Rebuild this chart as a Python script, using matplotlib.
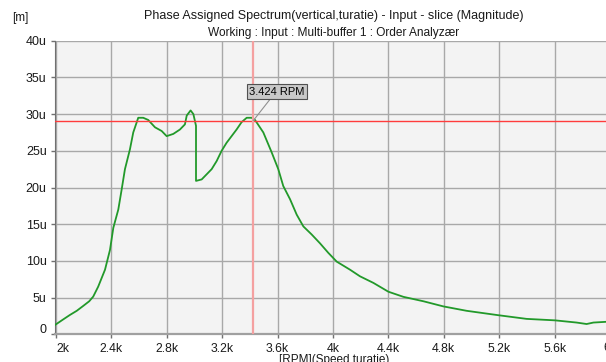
import matplotlib
matplotlib.use("Agg")
import matplotlib.pyplot as plt
from matplotlib.ticker import FixedLocator
import matplotlib.transforms as mtransforms

plt.rcParams['font.family'] = ['Liberation Sans', 'DejaVu Sans']

# --- data (RPM, magnitude in micro-metres) ---
rpm = [1993, 2050, 2101, 2150, 2197, 2240, 2269, 2305, 2354, 2390, 2414, 2450,
       2474, 2498, 2534, 2558, 2594, 2630, 2666, 2715, 2763, 2799, 2847, 2895,
       2931, 2944, 2972, 2992, 3011, 3011, 3052, 3088, 3124, 3160, 3196, 3232,
       3268, 3304, 3340, 3377, 3413, 3437, 3497, 3557, 3605, 3641, 3690, 3738,
       3786, 3846, 3906, 3966, 4027, 4123, 4195, 4292, 4400, 4509, 4653, 4797,
       4965, 5194, 5398, 5603, 5759, 5831, 5880, 5971]
magnitude_u = [1.27, 2.0, 2.64, 3.2, 3.87, 4.5, 5.14, 6.5, 8.8, 11.5, 14.5, 17.0,
               19.7, 22.5, 25.2, 27.5, 29.5, 29.5, 29.2, 28.2, 27.7, 27.0, 27.3, 27.9,
               28.6, 29.8, 30.5, 30.0, 28.4, 20.9, 21.1, 21.8, 22.5, 23.6, 25.0, 26.1,
               27.0, 27.9, 28.9, 29.5, 29.5, 29.2, 27.5, 24.8, 22.5, 20.2, 18.4, 16.3,
               14.7, 13.6, 12.4, 11.1, 9.9, 8.8, 7.9, 7.0, 5.8, 5.1, 4.5, 3.8,
               3.2, 2.6, 2.1, 1.9, 1.6, 1.4, 1.6, 1.7]

x_ticks = [2000, 2400, 2800, 3200, 3600, 4000, 4400, 4800, 5200, 5600, 6000]
x_tick_labels = ["2k", "2.4k", "2.8k", "3.2k", "3.6k", "4k", "4.4k", "4.8k", "5.2k", "5.6k", "6k"]
y_ticks = [0, 5, 10, 15, 20, 25, 30, 35, 40]
y_tick_labels = ["0", "5u", "10u", "15u", "20u", "25u", "30u", "35u", "40u"]

cursor_rpm = 3424
cursor_level = 29.1
cursor_label = "3.424 RPM"

W, H = 606, 362
fig = plt.figure(figsize=(W / 100, H / 100), dpi=100)
ax = fig.add_axes([55 / W, (H - 334.3) / H, (W - 55) / W, 293.6 / H])
ax.set_facecolor('#f3f3f3')

ax.set_xlim(1993, 5971)
ax.set_ylim(0, 40)

ax.xaxis.set_major_locator(FixedLocator(x_ticks))
ax.set_xticklabels(x_tick_labels)
ax.yaxis.set_major_locator(FixedLocator(y_ticks))
ax.set_yticklabels(y_tick_labels)

ax.grid(True, color='#a8a8a8', linewidth=1.0)
ax.set_axisbelow(True)

for s in ['top', 'right']:
    ax.spines[s].set_visible(False)
ax.spines['left'].set_color('#707070')
ax.spines['bottom'].set_color('#a0a0a0')
ax.spines['bottom'].set_linewidth(1.6)

ax.tick_params(axis='both', colors='#707070', labelcolor='#1a1a1a',
               length=3, width=1, direction='out', pad=3)
ax.tick_params(axis='y', labelsize=9)
ax.tick_params(axis='x', labelsize=8.8)

# shift "0" up and "2k" right like the original
for lbl in ax.get_yticklabels():
    if lbl.get_text() == "0":
        lbl.set_transform(lbl.get_transform() + mtransforms.ScaledTranslation(0, 6 / 100, fig.dpi_scale_trans))
for lbl in ax.get_xticklabels():
    if lbl.get_text() == "2k":
        lbl.set_horizontalalignment('left')

# the last tick label lies just past the right edge and is cut by the figure border
last_lbl = ax.get_xticklabels()[-1]
ax.text(x_ticks[-1], 0, x_tick_labels[-1], transform=ax.get_xaxis_transform(),
        ha='center', va='top', fontsize=8.8, color='#1a1a1a', clip_on=False)
ax.text(x_ticks[-1], 0, "", transform=ax.get_xaxis_transform())
# place it at same offset as other tick labels
ax.texts[-2].set_transform(ax.get_xaxis_transform() +
                           mtransforms.ScaledTranslation(0, -8 / 100, fig.dpi_scale_trans))

ax.plot(rpm, magnitude_u, color='#22992a', linewidth=1.3, zorder=3)

ax.axhline(cursor_level, color='#ff3c3c', linewidth=1.0, zorder=4)
ax.axvline(cursor_rpm, color='#f4a0a0', linewidth=1.6, zorder=4)

ax.annotate(cursor_label, xy=(cursor_rpm, cursor_level), xytext=(3596, 33.05),
            textcoords='data', ha='center', va='center', fontsize=8,
            bbox=dict(boxstyle='square,pad=0.25', fc='#c8c8c8', ec='#505050', lw=0.8),
            arrowprops=dict(arrowstyle='-', color='#909090', lw=0.8, relpos=(0.41, 0),
                            shrinkA=0, shrinkB=0),
            zorder=5)

fig.text(12 / W, 1 - 18.5 / H, "[m]", fontsize=8.5, ha='left', va='center', color='#1a1a1a')
fig.text(334 / W, 1 - 16 / H, "Phase Assigned Spectrum(vertical,turatie) - Input - slice (Magnitude)",
         fontsize=9, ha='center', va='center', color='#1a1a1a')
fig.text(334 / W, 1 - 33 / H, "Working : Input : Multi-buffer 1 : Order Analyzær",
         fontsize=8.6, ha='center', va='center', color='#1a1a1a')
fig.text(334 / W, 1 - 360 / H, "[RPM](Speed turatie)", fontsize=8.5, ha='center', va='center',
         color='#1a1a1a')

fig.savefig("out.png", dpi=100)
